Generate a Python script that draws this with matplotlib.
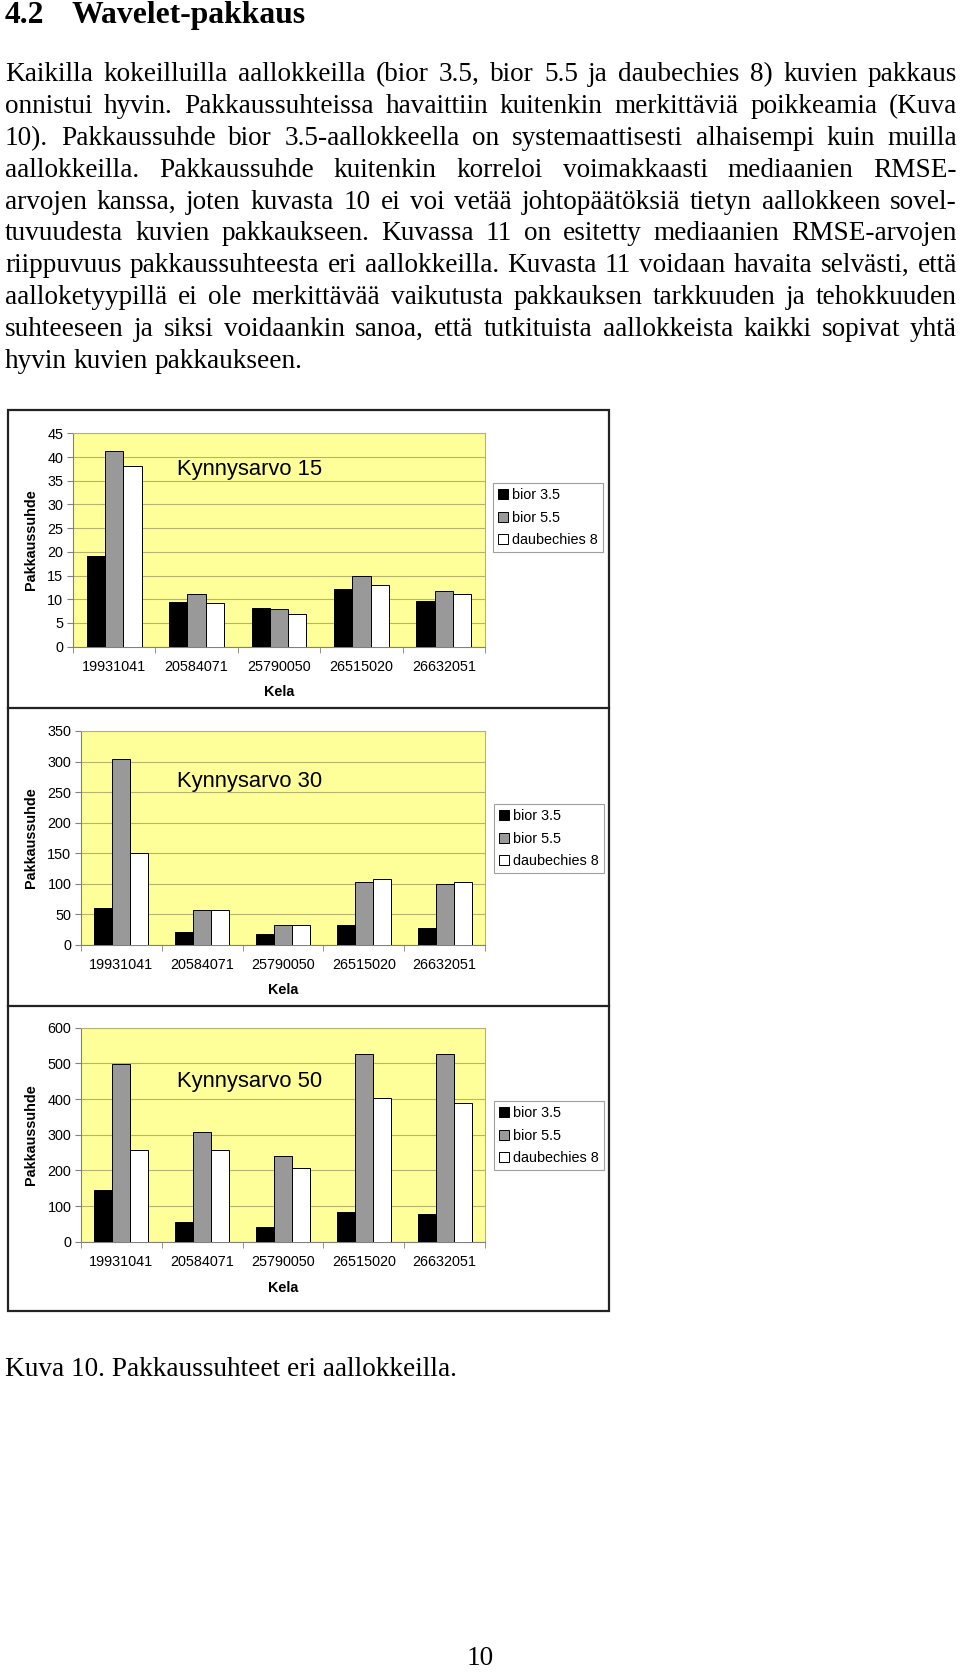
import numpy as np
import matplotlib
matplotlib.use('Agg')
import matplotlib.pyplot as plt
from matplotlib.patches import Patch, Rectangle
from matplotlib.lines import Line2D

W, H = 960, 1672

heading_num = '4.2'
heading_text = 'Wavelet-pakkaus'
body_lines = [
    'Kaikilla kokeilluilla aallokkeilla (bior 3.5, bior 5.5 ja daubechies 8) kuvien pakkaus',
    'onnistui hyvin. Pakkaussuhteissa havaittiin kuitenkin merkittäviä poikkeamia (Kuva',
    '10). Pakkaussuhde bior 3.5-aallokkeella on systemaattisesti alhaisempi kuin muilla',
    'aallokkeilla. Pakkaussuhde kuitenkin korreloi voimakkaasti mediaanien RMSE-',
    'arvojen kanssa, joten kuvasta 10 ei voi vetää johtopäätöksiä tietyn aallokkeen sovel-',
    'tuvuudesta kuvien pakkaukseen. Kuvassa 11 on esitetty mediaanien RMSE-arvojen',
    'riippuvuus pakkaussuhteesta eri aallokkeilla. Kuvasta 11 voidaan havaita selvästi, että',
    'aalloketyypillä ei ole merkittävää vaikutusta pakkauksen tarkkuuden ja tehokkuuden',
    'suhteeseen ja siksi voidaankin sanoa, että tutkituista aallokkeista kaikki sopivat yhtä',
    'hyvin kuvien pakkaukseen.',
]
caption = 'Kuva 10. Pakkaussuhteet eri aallokkeilla.'
page_number = '10'

# chart data
kela = ['19931041', '20584071', '25790050', '26515020', '26632051']
wavelets = ['bior 3.5', 'bior 5.5', 'daubechies 8']
thresholds = [15, 30, 50]

k15_bior35 = [19.2, 9.4, 8.1, 12.2, 9.6]
k15_bior55 = [41.2, 11.1, 8.0, 15.0, 11.8]
k15_db8 = [38.2, 9.3, 7.0, 13.0, 11.1]

k30_bior35 = [60, 22, 17.5, 33, 28]
k30_bior55 = [304, 57, 32, 103, 99.5]
k30_db8 = [150, 57, 32, 108, 103]

k50_bior35 = [146, 55, 42, 84, 78]
k50_bior55 = [499, 308, 239, 527, 527]
k50_db8 = [257, 257, 207, 404, 390]

y_max = [45, 350, 600]
y_step = [5, 50, 100]

bar_colors = ['black', '#999999', 'white']
serif = 'Liberation Serif'
sans = 'Liberation Sans'


def fx(x):
    return x / W


def fy(y):
    return 1 - y / H


fig = plt.figure(figsize=(W / 100, H / 100), dpi=100)
renderer = fig.canvas.get_renderer()

# heading
fig.text(fx(5), fy(23), heading_num, family=serif, weight='bold', fontsize=22.8, va='baseline')
fig.text(fx(72), fy(23), heading_text, family=serif, weight='bold', fontsize=22.8, va='baseline')

# justified body text
body_size = 19.6
left, right = 5, 957
y0, dy = 74.5, 31.9
space = fig.text(0, 0, 'a a', fontsize=body_size, family=serif)
nospace = fig.text(0, 0, 'aa', fontsize=body_size, family=serif)
space_w = space.get_window_extent(renderer).width - nospace.get_window_extent(renderer).width
space.remove()
nospace.remove()
for i, line in enumerate(body_lines):
    words = line.split()
    texts = [fig.text(0, fy(y0 + i * dy), w, fontsize=body_size, family=serif, va='center')
             for w in words]
    widths = [t.get_window_extent(renderer).width for t in texts]
    if i < len(body_lines) - 1:
        gap = (right - left - sum(widths)) / (len(words) - 1)
    else:
        gap = space_w
    x = left
    for t, w in zip(texts, widths):
        t.set_x(fx(x))
        x += w + gap

# frame around the three charts
frame_l, frame_r, frame_t, frame_b = 7.5, 608.5, 410, 1311
fig.add_artist(Rectangle((fx(frame_l), fy(frame_b)), (frame_r - frame_l) / W,
                         (frame_b - frame_t) / H, transform=fig.transFigure,
                         fill=False, edgecolor='#222222', linewidth=1.6))
for yd in [708, 1006]:
    fig.add_artist(Line2D([fx(frame_l), fx(frame_r)], [fy(yd), fy(yd)],
                          transform=fig.transFigure, color='#222222', linewidth=1.6))

chart_series = [
    [k15_bior35, k15_bior55, k15_db8],
    [k30_bior35, k30_bior55, k30_db8],
    [k50_bior35, k50_bior55, k50_db8],
]
plot_boxes = [(73, 485, 433.3, 646.7), (81, 485, 731, 945), (81, 485, 1027.7, 1241.7)]
title_y = [469, 781.5, 1081.5]
xlabel_y = [692, 990, 1288]
legend_pos = [(493, 483), (494, 804), (494, 1101)]

x = np.arange(len(kela))
bw = 0.222
for c in range(3):
    l, r, t, b = plot_boxes[c]
    ax = fig.add_axes([fx(l), fy(b), (r - l) / W, (b - t) / H])
    ax.set_facecolor('#ffff99')
    for k, vals in enumerate(chart_series[c]):
        ax.bar(x + (k - 1) * bw, vals, bw, color=bar_colors[k], edgecolor='black',
               linewidth=0.7, zorder=3)
    ax.set_xlim(-0.5, len(kela) - 0.5)
    ax.set_ylim(0, y_max[c])
    ax.set_yticks(np.arange(0, y_max[c] + 1, y_step[c]))
    ax.yaxis.grid(True, color='#b4b46e', linewidth=0.8, zorder=0)
    ax.set_xticks(x, kela)
    ax.set_xticks(np.arange(len(kela) + 1) - 0.5, minor=True)
    ax.tick_params(axis='x', which='major', length=0, pad=9.5, labelsize=10.4)
    ax.tick_params(axis='x', which='minor', length=4, direction='out', color='#808080')
    ax.tick_params(axis='y', length=4, direction='out', color='#808080', pad=3, labelsize=10.4)
    for lab in ax.get_xticklabels() + ax.get_yticklabels():
        lab.set_family(sans)
    for side in ['left', 'bottom']:
        ax.spines[side].set_color('#808080')
    for side in ['top', 'right']:
        ax.spines[side].set_color('#b4b46e')
    ax.set_axisbelow(True)

    fig.text(fx(177), fy(title_y[c]), 'Kynnysarvo %d' % thresholds[c], family=sans,
             fontsize=15.8, va='center')
    fig.text(fx((l + r) / 2), fy(xlabel_y[c]), 'Kela', family=sans, weight='bold',
             fontsize=10.4, ha='center', va='center')
    fig.text(fx(31.5), fy((t + b) / 2), 'Pakkaussuhde', family=sans, weight='bold',
             fontsize=10.4, rotation=90, ha='center', va='center')

    handles = [Patch(facecolor=bar_colors[k], edgecolor='black', linewidth=0.7)
               for k in range(3)]
    lx, ly = legend_pos[c]
    leg = fig.legend(handles, wavelets, loc='upper left',
                     bbox_to_anchor=(fx(lx), fy(ly)), bbox_transform=fig.transFigure,
                     prop={'family': sans, 'size': 10.4}, handlelength=0.7,
                     handleheight=0.7, handletextpad=0.3, labelspacing=0.6,
                     borderpad=0.35, borderaxespad=0, fancybox=False, framealpha=1,
                     edgecolor='#a0a0a0')
    leg.get_frame().set_linewidth(0.8)

# caption and page number
fig.text(fx(5), fy(1370), caption, family=serif, fontsize=body_size, va='center')
fig.text(fx(480), fy(1665), page_number, family=serif, fontsize=body_size,
         ha='center', va='baseline')

fig.savefig('out.png', dpi=100)
